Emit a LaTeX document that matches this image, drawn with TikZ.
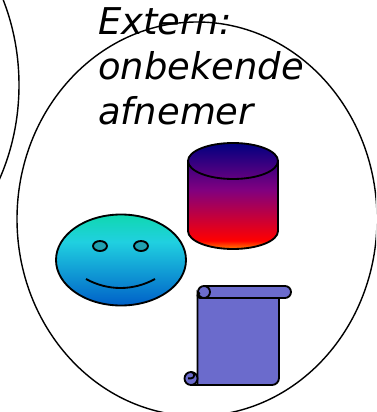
\documentclass[tikz,border=0pt]{standalone}
\usepackage{fontspec}
\usepackage{xcolor}
\setmainfont{DejaVu Sans}
\definecolor{scrollblue}{RGB}{107,107,204}
\definecolor{eyeteal}{RGB}{32,160,176}
\definecolor{navytop}{RGB}{0,0,128}
\definecolor{purplemid}{RGB}{128,0,128}
\definecolor{facegreen}{RGB}{16,216,176}
\definecolor{facecyan}{RGB}{32,208,224}
\definecolor{faceblue}{RGB}{0,96,200}
\pgfdeclareverticalshading{drumshade}{100bp}{color(0bp)=(orange); color(25bp)=(orange); color(29bp)=(red); color(53bp)=(purplemid); color(75bp)=(navytop); color(100bp)=(navytop)}
\pgfdeclareverticalshading{faceshade}{100bp}{color(0bp)=(faceblue); color(25bp)=(faceblue); color(60bp)=(facecyan); color(75bp)=(facegreen); color(100bp)=(facegreen)}
\tikzset{
    outline/.style={draw=black,line width=1.05pt},
    ring/.style={draw=black,line width=0.8pt},
    textline/.style={anchor=base west,inner sep=0pt,font=\itshape\fontsize{21pt}{21pt}\selectfont},
}
\begin{document}
\begin{tikzpicture}[x=0.02cm,y=-0.02cm]
        \useasboundingbox (0,0) rectangle (376,412);

        \coordinate (drumtop) at (233,161);
        \coordinate (drumbot) at (233,231);
        \coordinate (face)    at (121,260);
        \coordinate (eyeL)    at (100,246);
        \coordinate (eyeR)    at (141,246);
        \coordinate (curlA)   at (204,292);
        \coordinate (curlB)   at (191,378.5);

        \begin{scope}
            \clip (0,0) rectangle (376,412);
            \draw[ring] (-160,85) ellipse [x radius=179,y radius=207];
            \draw[ring] (197,219) ellipse [x radius=180,y radius=197];
        \end{scope}

        % drum
        \shade[shading=drumshade] (188,161) arc [start angle=180,end angle=360,x radius=45,y radius=18]
            -- (278,231) arc [start angle=0,end angle=180,x radius=45,y radius=18] -- cycle;
        \draw[outline] (188,161) -- (188,231) arc [start angle=180,end angle=0,x radius=45,y radius=18] -- (278,161);
        \draw[outline] (drumtop) ellipse [x radius=45,y radius=18];

        % face
        \shade[shading=faceshade] (face) ellipse [x radius=65,y radius=45.5];
        \draw[outline] (face) ellipse [x radius=65,y radius=45.5];
        \draw[outline,fill=eyeteal] (eyeL) ellipse [x radius=7,y radius=5];
        \draw[outline,fill=eyeteal] (eyeR) ellipse [x radius=7,y radius=5];
        \draw[outline] (86,279) .. controls (108,291) and (133,291) .. (155,279);

        % scroll
        \draw[outline,fill=scrollblue] (197.5,292) -- (197.5,385) -- (272,385)
            arc [start angle=90,end angle=0,radius=7] -- (279,298) -- (204,298) -- cycle;
        \draw[outline,fill=scrollblue] (204,286) -- (285,286)
            arc [start angle=-90,end angle=90,radius=6] -- (204,298)
            arc [start angle=90,end angle=270,radius=6] -- cycle;
        \draw[outline] (204,286) arc [start angle=-90,end angle=90,radius=6];
        \draw[outline] (204,298) -- (200,298) arc [start angle=90,end angle=270,radius=2.5];
        \draw[outline,fill=scrollblue] (curlB) circle [radius=6.5];
        \draw[outline] (191,372) arc [start angle=-90,end angle=90,radius=3.2] -- (188,378.4);
        \draw[outline] (191,385) -- (197.5,385);

        \node[textline] (line1) at (98,35)  {Extern:};
        \node[textline] (line2) at (98,80)  {onbekende};
        \node[textline] (line3) at (98,124) {afnemer};
    \end{tikzpicture}
\end{document}
